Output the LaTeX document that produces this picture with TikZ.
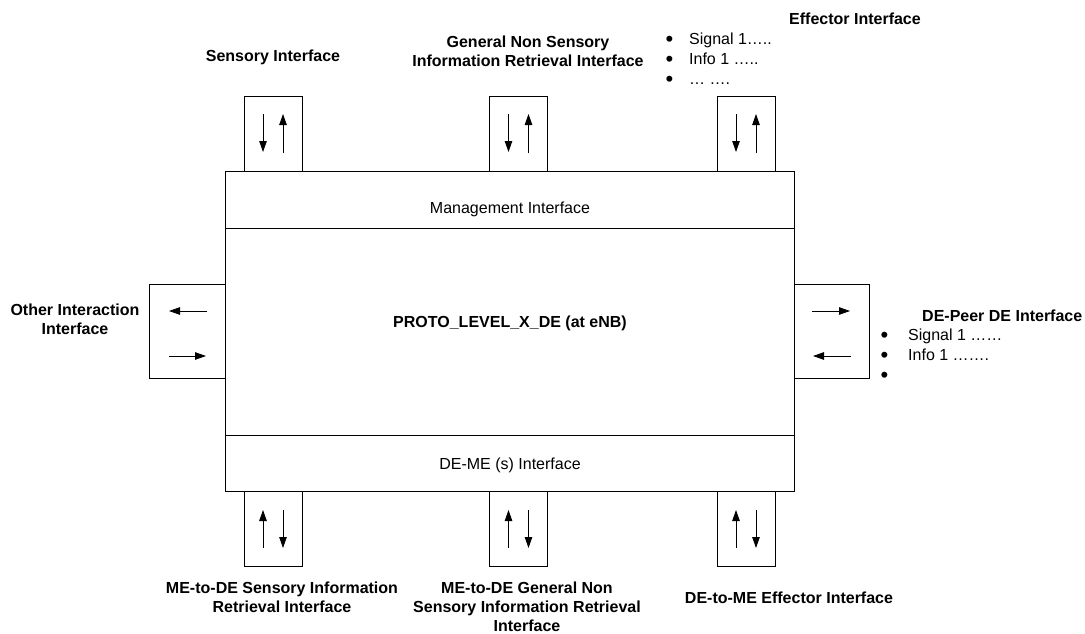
\documentclass[tikz,border=0pt]{standalone}
\usepackage{fontspec}
\setmainfont{Liberation Sans}
\usetikzlibrary{arrows.meta,calc}
\newcommand{\bigdot}{\raisebox{-1.6pt}{\fontsize{22}{20}\selectfont •}}
\begin{document}
\begin{tikzpicture}[x=1pt,y=-1pt,
  frame/.style={draw=black,line width=0.9pt,inner sep=0pt,fill=white},
  port/.style={frame,minimum width=58pt,minimum height=75pt},
  sideport/.style={frame,minimum width=76pt,minimum height=94pt},
  layer/.style={frame,minimum width=569pt},
  flow/.style={line width=0.9pt,-{Triangle[length=11pt,width=7.5pt]}},
  plain/.style={font=\fontsize{16}{19}\selectfont,inner sep=0pt},
  title/.style={font=\fontsize{16}{19}\selectfont\bfseries,align=center,inner sep=0pt},
  items/.style={font=\fontsize{16}{20}\selectfont,align=left,inner sep=0pt,anchor=west}
]
\useasboundingbox (0,0) rectangle (1085,634);

% core entity with its two layers
\node[layer,minimum height=57pt] (mgmt) at (509.5,199.5) {};
\node[layer,minimum height=207pt] (core) at (509.5,331.5) {};
\node[layer,minimum height=56pt] (deme) at (509.5,463) {};
\node[plain] (mgmttext) at (510,209) {Management Interface};
\node[plain] (demetext) at (510,465) {DE-ME (s) Interface};
\node[title] (coretext) at (510,323) {PROTO\_LEVEL\_X\_DE (at eNB)};

% ports on top
\node[port] (sens) at (273,133.5) {};
\node[port] (gen) at (518.5,133.5) {};
\node[port] (eff) at (746,133.5) {};
% ports at the bottom
\node[port] (msens) at (273,529) {};
\node[port] (mgen) at (518.5,529) {};
\node[port] (meff) at (746,529) {};
% side ports
\node[sideport] (other) at (187,331) {};
\node[frame,minimum width=75pt,minimum height=94pt] (peer) at (831.5,331) {};

% arrows inside the top ports
\foreach \p in {sens,gen,eff}{
  \draw[flow] ($(\p)+(-10,-19.5)$) -- ($(\p)+(-10,18.5)$);
  \draw[flow] ($(\p)+(10,19.5)$) -- ($(\p)+(10,-19.5)$);
}
% arrows inside the bottom ports
\foreach \p in {msens,mgen,meff}{
  \draw[flow] ($(\p)+(-10,19)$) -- ($(\p)+(-10,-19)$);
  \draw[flow] ($(\p)+(10,-19)$) -- ($(\p)+(10,19)$);
}
% arrows inside the side ports
\draw[flow] ($(other)+(20,-20)$) -- ($(other)+(-18,-20)$);
\draw[flow] ($(other)+(-18,25)$) -- ($(other)+(19,25)$);
\draw[flow] ($(peer)+(-19.5,-20)$) -- ($(peer)+(18.5,-20)$);
\draw[flow] ($(peer)+(19.5,25)$) -- ($(peer)+(-18.5,25)$);

% labels
\node[title] (senslbl) at (273,57) {Sensory Interface};
\node[title] (genlbl) at (528,51.5) {General Non Sensory\\Information Retrieval Interface};
\node[title] (efflbl) at (855,19) {Effector Interface};
\node[items] (effitems) at (665.5,59.5) {\makebox[23.5pt][l]{\bigdot}Signal 1…..\\\makebox[23.5pt][l]{\bigdot}Info 1 …..\\\makebox[23.5pt][l]{\bigdot}… ….};
\node[title] (otherlbl) at (75,319.5) {Other Interaction\\Interface};
\node[title,anchor=west] (peerlbl) at (922,316) {DE-Peer DE Interface};
\node[items] (peeritems) at (880.5,356) {\makebox[27.5pt][l]{\bigdot}Signal 1 ……\\\makebox[27.5pt][l]{\bigdot}Info 1 …….\\\makebox[27.5pt][l]{\bigdot}};
\node[title] (msenslbl) at (282,597.5) {ME-to-DE Sensory Information\\Retrieval Interface};
\node[title] (mgenlbl) at (527,607) {ME-to-DE General Non\\Sensory Information Retrieval\\Interface};
\node[title] (mefflbl) at (789,598) {DE-to-ME Effector Interface};
\end{tikzpicture}
\end{document}
